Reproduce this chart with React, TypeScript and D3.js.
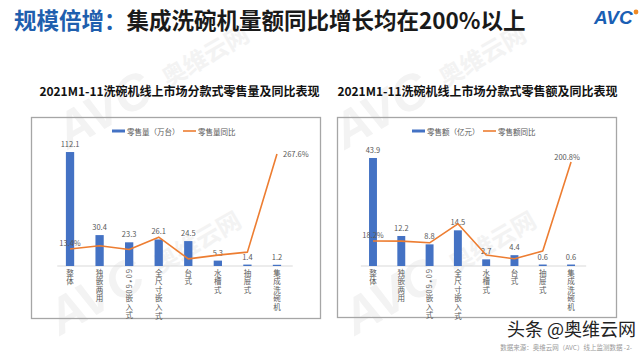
import React from "react";
import * as d3 from "d3";

const pageTitleBlue = "规模倍增：";
const pageTitleRest = "集成洗碗机量额同比增长均在200%以上";

const leftTitle = "2021M1-11洗碗机线上市场分款式零售量及同比表现";
const leftCategories = ["整体", "独嵌两用", "60*60嵌入式", "全尺寸嵌入式", "台式", "水槽式", "抽屉式", "集成洗碗机"];
const leftVolume = [112.1, 30.4, 23.3, 26.1, 24.5, 5.3, 1.4, 1.2];
const leftVolumeYoY = [13.4, 22, 12, 45, -13, -3, 5, 267.6];
const leftBarLegend = "零售量（万台）";
const leftLineLegend = "零售量同比";

const rightTitle = "2021M1-11洗碗机线上市场分款式零售额及同比表现";
const rightCategories = ["整体", "独嵌两用", "60*60嵌入式", "全尺寸嵌入式", "水槽式", "台式", "抽屉式", "集成洗碗机"];
const rightValue = [43.9, 12.2, 8.8, 14.5, 2.7, 4.4, 0.6, 0.6];
const rightValueYoY = [18.2, 18, 14, 58, -14, -23, -5, 200.8];
const rightBarLegend = "零售额（亿元）";
const rightLineLegend = "零售额同比";

const sourceText = "数据来源：奥维云网（AVC）线上监测数据  -2-";
const brandText = "头条 @奥维云网";

const FONT = "'Noto Sans CJK SC', 'Noto Sans', sans-serif";
const BAR = "#4472C4";
const LINE = "#ED7D31";
const GRAY = "#595959";

function CatLabel({ x, y, text }: { x: number; y: number; text: string }) {
  return (
    <text
      x={x}
      y={y}
      fontSize={7.5}
      fill={GRAY}
      style={{ writingMode: "vertical-rl", textOrientation: "mixed", letterSpacing: "1.1px" } as React.CSSProperties}
    >
      {text}
    </text>
  );
}

type ChartProps = {
  title: string;
  titleX: number;
  categories: string[];
  bars: number[];
  yoy: number[];
  barLegend: string;
  lineLegend: string;
  legendX: number;
  box: { x: number; y: number; w: number; h: number };
  band: [number, number];
  barDomain: [number, number];
  barRange: [number, number];
  lineDomain: [number, number];
  lineRange: [number, number];
  endLabel: "right" | "above";
};

function Chart(p: ChartProps) {
  const x = d3.scaleBand<string>().domain(p.categories).range(p.band).paddingInner(0.72).paddingOuter(0.36);
  const yb = d3.scaleLinear().domain(p.barDomain).range(p.barRange);
  const yl = d3.scaleLinear().domain(p.lineDomain).range(p.lineRange);
  const cx = (c: string) => (x(c) ?? 0) + x.bandwidth() / 2;
  const line = d3
    .line<number>()
    .x((_, i) => cx(p.categories[i]))
    .y((d) => yl(d));
  const base = yb(0);
  const n = p.yoy.length;
  const firstX = cx(p.categories[0]);
  const lastX = cx(p.categories[n - 1]);
  const fmt = (v: number) => v.toFixed(1) + "%";
  const legendY = 131;
  return (
    <g fontFamily={FONT}>
      <text x={p.titleX} y={96} textAnchor="middle" fontSize={12} fontWeight="bold" fill="#111">
        {p.title}
      </text>
      <rect x={p.box.x} y={p.box.y} width={p.box.w} height={p.box.h} fill="none" stroke="#a6a6a6" strokeWidth={1.3} />
      <rect x={p.legendX} y={legendY - 1.5} width={13} height={3} fill={BAR} />
      <text x={p.legendX + 15} y={legendY} dominantBaseline="central" fontSize={7.5} fill={GRAY}>
        {p.barLegend}
      </text>
      <line x1={p.legendX + 71} x2={p.legendX + 84} y1={legendY} y2={legendY} stroke={LINE} strokeWidth={1.6} />
      <text x={p.legendX + 86} y={legendY} dominantBaseline="central" fontSize={7.5} fill={GRAY}>
        {p.lineLegend}
      </text>
      <line x1={p.band[0] + 2} x2={p.band[1] + 1} y1={base} y2={base} stroke="#d9d9d9" strokeWidth={1} />
      {p.categories.map((c, i) => (
        <g key={c}>
          <rect x={x(c)} y={yb(p.bars[i])} width={x.bandwidth()} height={base - yb(p.bars[i])} fill={BAR} />
          <text x={cx(c)} y={yb(p.bars[i]) - 5} textAnchor="middle" fontSize={7.5} fill={GRAY}>
            {p.bars[i].toFixed(1)}
          </text>
          <CatLabel x={cx(c)} y={269} text={c} />
        </g>
      ))}
      <path d={line(p.yoy) ?? ""} fill="none" stroke={LINE} strokeWidth={1.6} strokeLinejoin="round" />
      <text x={firstX} y={yl(p.yoy[0]) - 3} textAnchor="middle" fontSize={7.5} fill={GRAY}>
        {fmt(p.yoy[0])}
      </text>
      {p.endLabel === "right" ? (
        <text x={lastX + 6} y={yl(p.yoy[n - 1]) + 3} fontSize={7.5} fill={GRAY}>
          {fmt(p.yoy[n - 1])}
        </text>
      ) : (
        <text x={lastX - 4} y={yl(p.yoy[n - 1]) - 2} textAnchor="middle" fontSize={7.5} fill={GRAY}>
          {fmt(p.yoy[n - 1])}
        </text>
      )}
    </g>
  );
}

function Watermark({ x, y }: { x: number; y: number }) {
  return (
    <g transform={`translate(${x},${y}) rotate(-30)`} fill="#f3f3f3" fontFamily={FONT} fontWeight="bold">
      <text x={0} y={0} fontSize={50} fontStyle="italic" fontFamily="'Liberation Sans', sans-serif">
        AVC
      </text>
      <text x={118} y={-4} fontSize={24}>
        奥维云网
      </text>
    </g>
  );
}

export default function App() {
  return (
    <svg
      width={640}
      height={352}
      viewBox="0 0 640 352"
      style={{ position: "absolute", left: 0, top: 0, background: "#fff" }}
      fontFamily={FONT}
    >
      <rect width={640} height={352} fill="#fff" />
      <Watermark x={68} y={150} />
      <Watermark x={60} y={336} />
      <Watermark x={345} y={150} />
      <Watermark x={355} y={336} />
      <text x={14} y={29} fontSize={22.5} fontWeight="bold">
        <tspan fill="#1f5fae">{pageTitleBlue}</tspan>
        <tspan fill="#1a1a1a">{pageTitleRest}</tspan>
      </text>
      <g>
        <text x={594} y={24} fontSize={19} fontWeight="bold" fontStyle="italic" fill="#1a5fb4" fontFamily="'Liberation Sans', sans-serif">
          AVC
        </text>
        <circle cx={636} cy={12} r={2.4} fill="#f08a24" />
      </g>
      <Chart
        title={leftTitle}
        titleX={179.5}
        categories={leftCategories}
        bars={leftVolume}
        yoy={leftVolumeYoY}
        barLegend={leftBarLegend}
        lineLegend={leftLineLegend}
        legendX={112}
        box={{ x: 31.5, y: 117.5, w: 289, h: 201 }}
        band={[55.25, 291.75]}
        barDomain={[0, 120]}
        barRange={[266, 144]}
        lineDomain={[-100, 300]}
        lineRange={[291.4, 141.8]}
        endLabel="right"
      />
      <Chart
        title={rightTitle}
        titleX={477.5}
        categories={rightCategories}
        bars={rightValue}
        yoy={rightValueYoY}
        barLegend={rightBarLegend}
        lineLegend={rightLineLegend}
        legendX={412}
        box={{ x: 337.5, y: 117.5, w: 279, h: 200 }}
        band={[358.85, 585.2]}
        barDomain={[0, 50]}
        barRange={[266, 143]}
        lineDomain={[-50, 250]}
        lineRange={[270.5, 140.75]}
        endLabel="above"
      />
      <text x={636} y={336} textAnchor="end" fontSize={18} fill="#222">
        {brandText}
      </text>
      <text x={632} y={349.5} textAnchor="end" fontSize={6.5} fill="#9a9a9a">
        {sourceText}
      </text>
    </svg>
  );
}
